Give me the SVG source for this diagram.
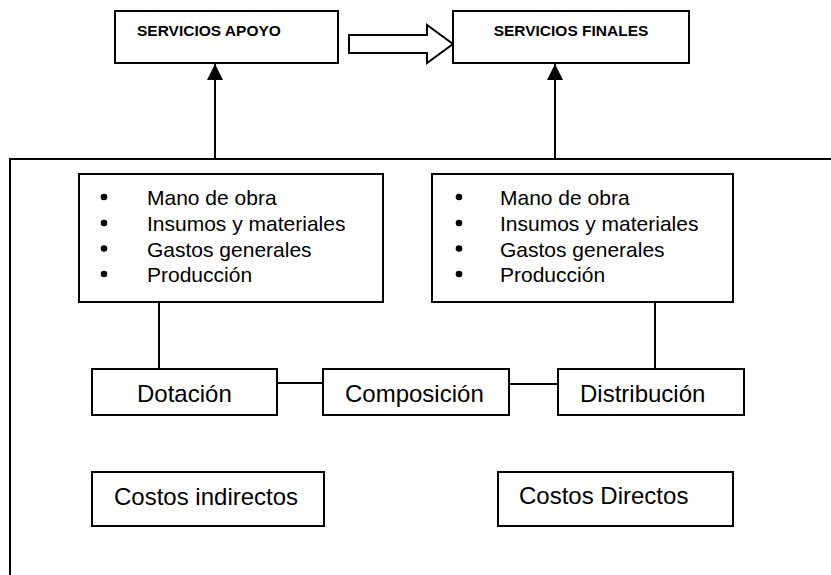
<svg xmlns="http://www.w3.org/2000/svg" width="831" height="575" viewBox="0 0 831 575">
<style>
.box{fill:#fff;stroke:#000;stroke-width:2}
.ln{fill:none;stroke:#000;stroke-width:2}
.hd{font-family:"Liberation Sans",Arial,sans-serif;font-weight:bold;font-size:15.5px;fill:#000}
.lb{font-family:"Liberation Sans",Arial,sans-serif;font-size:24px;fill:#000}
.li{font-family:"Liberation Sans",Arial,sans-serif;font-size:21px;fill:#000}
</style>
<defs>
<marker id="ah" markerWidth="16" markerHeight="17" refX="16" refY="8" orient="auto" markerUnits="userSpaceOnUse">
<path d="M0,0 L16,8 L0,16 Z" fill="#000"/>
</marker>
</defs>
<rect width="831" height="575" fill="#fff"/>
<g id="connectors">
<path class="ln" d="M10,575 L10,159 L831,159"/>
<line class="ln" x1="215" y1="159" x2="215" y2="64" marker-end="url(#ah)"/>
<line class="ln" x1="555" y1="159" x2="555" y2="64" marker-end="url(#ah)"/>
<polygon points="349,35 427,35 427,25 453,44 427,63 427,53 349,53" fill="#fff" stroke="#000" stroke-width="2"/>
<line class="ln" x1="159" y1="302" x2="159" y2="369"/>
<line class="ln" x1="655" y1="302" x2="655" y2="369"/>
<line class="ln" x1="277" y1="383" x2="323" y2="383"/>
<line class="ln" x1="509" y1="384" x2="558" y2="384"/>
</g>
<g id="servicios-apoyo">
<rect class="box" x="115" y="11" width="223" height="52"/>
<text class="hd" x="137" y="36">SERVICIOS APOYO</text>
</g>
<g id="servicios-finales">
<rect class="box" x="453" y="11" width="236" height="52"/>
<text class="hd" x="571" y="36" text-anchor="middle">SERVICIOS FINALES</text>
</g>
<g id="lista-izq">
<rect class="box" x="79" y="174" width="304" height="128"/>
<circle cx="104" cy="197" r="3.3"/>
<circle cx="104" cy="223" r="3.3"/>
<circle cx="104" cy="248.5" r="3.3"/>
<circle cx="104" cy="274" r="3.3"/>
<text class="li" x="147" y="205">Mano de obra</text>
<text class="li" x="147" y="231">Insumos y materiales</text>
<text class="li" x="147" y="256.5">Gastos generales</text>
<text class="li" x="147" y="282">Producción</text>
</g>
<g id="lista-der">
<rect class="box" x="432" y="174" width="301" height="128"/>
<circle cx="459" cy="197" r="3.3"/>
<circle cx="459" cy="223" r="3.3"/>
<circle cx="459" cy="248.5" r="3.3"/>
<circle cx="459" cy="274" r="3.3"/>
<text class="li" x="500" y="205">Mano de obra</text>
<text class="li" x="500" y="231">Insumos y materiales</text>
<text class="li" x="500" y="256.5">Gastos generales</text>
<text class="li" x="500" y="282">Producción</text>
</g>
<g id="dotacion">
<rect class="box" x="92" y="369" width="185" height="46"/>
<text class="lb" x="137" y="402">Dotación</text>
</g>
<g id="composicion">
<rect class="box" x="323" y="369" width="186" height="46"/>
<text class="lb" x="345" y="402">Composición</text>
</g>
<g id="distribucion">
<rect class="box" x="558" y="369" width="186" height="46"/>
<text class="lb" x="580" y="402">Distribución</text>
</g>
<g id="costos-indirectos">
<rect class="box" x="92" y="472" width="232" height="54"/>
<text class="lb" x="114" y="505">Costos indirectos</text>
</g>
<g id="costos-directos">
<rect class="box" x="498" y="472" width="235" height="54"/>
<text class="lb" x="519" y="504">Costos Directos</text>
</g>
</svg>
